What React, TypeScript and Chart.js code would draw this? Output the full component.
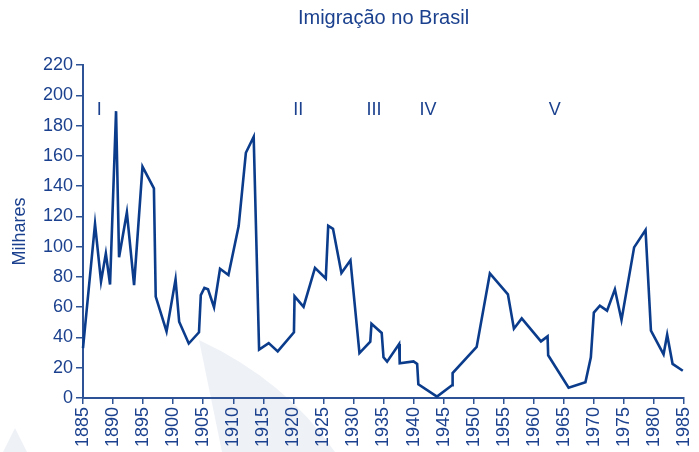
import React, { useEffect, useRef } from "react";
import { Chart, registerables } from "chart.js";

Chart.register(...registerables);

const TITLE = "Imigração no Brasil";
const Y_TITLE = "Milhares";

const years = [
  1885, 1887, 1888, 1888.8, 1889.5, 1890.5, 1891, 1892.3, 1893.5, 1894.9, 1896.8, 1897.1,
  1898.9, 1900.4, 1901, 1902.6, 1904.3, 1904.6, 1905.2, 1905.8, 1906.8, 1907.8, 1909.2,
  1910.9, 1912.1, 1913.4, 1914.3, 1915.9, 1917.4, 1920.1, 1920.2, 1921.7, 1923.6, 1925.4,
  1925.8, 1926.6, 1928, 1929.5, 1931, 1932.8, 1933, 1934.7, 1935, 1935.6, 1937.6, 1937.7,
  1940, 1940.6, 1940.8, 1943.9, 1946.4, 1946.5, 1950.5, 1952.7, 1955.7, 1956.7, 1958,
  1961.2, 1962.3, 1962.4, 1965.8, 1968.6, 1969.5, 1970, 1971, 1972.2, 1973.5, 1974.6,
  1976.7, 1978.6, 1979.5, 1981.6, 1982.2, 1983.1, 1984.8,
];

const immigrants = [
  33, 115, 77, 95.5, 75, 189.5, 93, 122.6, 74.6, 152.8, 138.5, 67,
  44, 78.4, 50.4, 36, 43.4, 68, 72.7, 71.8, 60, 85.4, 81.2,
  113.6, 162, 172.6, 32, 36.3, 30.8, 43.4, 67.2, 60.3, 86, 79,
  113.8, 111.8, 82.6, 91, 29.7, 37.2, 49, 43, 26.9, 24, 35.7, 22.9,
  24.2, 22.5, 9, 0.9, 8.4, 16.5, 33.7, 82.3, 68.5, 45.8, 52.6,
  37.4, 40.7, 28.2, 6.8, 10.4, 26.9, 56.4, 61, 57.7, 71.8, 51.5,
  99.5, 111, 44.5, 28.9, 41.8, 22.5, 18,
];

const periodLabels = ["I", "II", "III", "IV", "V"];
const periodYears = [1887.7, 1920.8, 1933.4, 1942.4, 1963.5];
const periodLevel = 190;

const NAVY = "#0b3c8c";
const TEXT = "#1b418e";
const AXIS = "#2d5296";
const FONT = "'Liberation Sans', Arial, sans-serif";

const decorPlugin = {
  id: "decor",
  beforeDraw(chart: any) {
    const ctx = chart.ctx;
    ctx.save();
    ctx.fillStyle = "#eef1f6";
    ctx.beginPath();
    ctx.moveTo(199, 340);
    ctx.quadraticCurveTo(285, 380, 335, 452);
    ctx.lineTo(222, 452);
    ctx.closePath();
    ctx.fill();
    ctx.beginPath();
    ctx.moveTo(15, 428);
    ctx.lineTo(27, 452);
    ctx.lineTo(3, 452);
    ctx.closePath();
    ctx.fill();
    ctx.restore();
  },
  afterDraw(chart: any) {
    const ctx = chart.ctx;
    const { chartArea, scales } = chart;
    ctx.save();
    ctx.fillStyle = TEXT;
    ctx.textAlign = "center";
    ctx.textBaseline = "middle";
    ctx.font = `20px ${FONT}`;
    ctx.fillText(TITLE, (chartArea.left + chartArea.right) / 2, 18);
    ctx.font = `18px ${FONT}`;
    periodLabels.forEach((lab, i) => {
      ctx.fillText(lab, scales.x.getPixelForValue(periodYears[i]), scales.y.getPixelForValue(periodLevel));
    });
    ctx.restore();
  },
};

export default function App() {
  const ref = useRef<HTMLCanvasElement>(null);
  useEffect(() => {
    document.body.style.margin = "0";
    const chart = new Chart(ref.current!, {
      type: "line",
      data: {
        datasets: [
          {
            data: years.map((y, i) => ({ x: y, y: immigrants[i] })),
            borderColor: NAVY,
            borderWidth: 2.6,
            pointRadius: 0,
            tension: 0,
            fill: false,
            clip: false as any,
          },
        ],
      },
      options: {
        animation: false,
        responsive: false,
        maintainAspectRatio: false,
        layout: { padding: { top: 65, right: 15, bottom: 0, left: 0 } },
        plugins: { legend: { display: false }, title: { display: false }, tooltip: { enabled: false } },
        scales: {
          x: {
            type: "linear",
            min: 1885,
            max: 1985,
            afterFit: (s: any) => {
              s.height = 54;
              s.paddingRight = 0;
              s.paddingLeft = 0;
            },
            ticks: {
              stepSize: 5,
              autoSkip: false,
              minRotation: 90,
              maxRotation: 90,
              padding: 3,
              color: TEXT,
              font: { family: FONT, size: 18 },
              callback: (v: any) => String(v),
            },
            grid: { drawOnChartArea: false, drawTicks: true, tickLength: 6, color: AXIS, lineWidth: 1.5 },
            border: { display: true, color: AXIS, width: 2 },
          },
          y: {
            min: 0,
            max: 220,
            afterFit: (s: any) => {
              s.width = 83;
            },
            ticks: {
              stepSize: 20,
              padding: 3,
              color: TEXT,
              font: { family: FONT, size: 18 },
            },
            grid: { drawOnChartArea: false, drawTicks: true, tickLength: 7, color: AXIS, lineWidth: 1.5 },
            border: { display: true, color: AXIS, width: 2 },
            title: {
              display: true,
              text: Y_TITLE,
              color: TEXT,
              font: { family: FONT, size: 18 },
              padding: { top: 9, bottom: 0 },
            },
          },
        },
      },
      plugins: [decorPlugin],
    });
    return () => chart.destroy();
  }, []);
  return (
    <div style={{ position: "absolute", left: 0, top: 0, width: 699, height: 452 }}>
      <canvas ref={ref} width={699} height={452} style={{ display: "block" }} />
    </div>
  );
}
